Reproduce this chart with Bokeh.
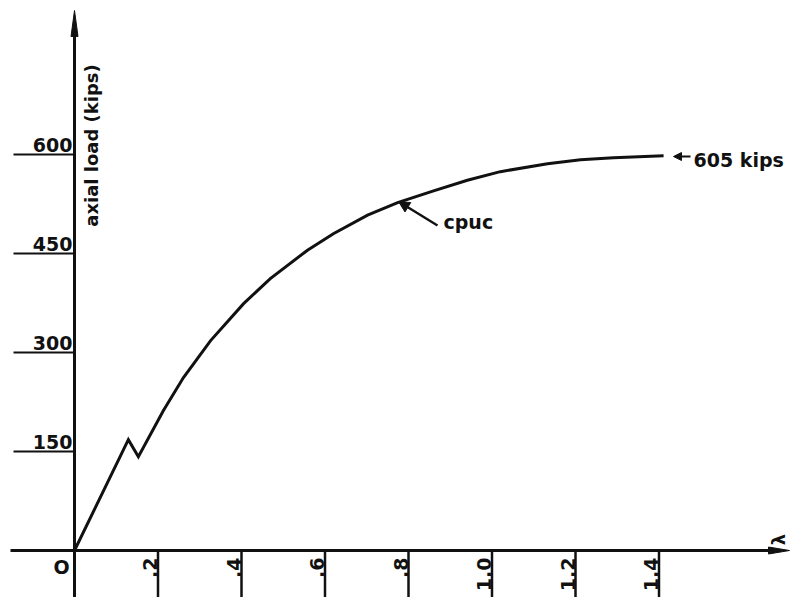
import math
from bokeh.plotting import figure
from bokeh.models import Range1d, Arrow, NormalHead
from bokeh.core.properties import value
from bokeh.embed import file_html
from bokeh.resources import INLINE

# ---- data ----
lam = [0.0, 0.129, 0.153, 0.213, 0.261, 0.326, 0.405, 0.469, 0.558, 0.620,
       0.702, 0.774, 0.860, 0.941, 1.020, 1.133, 1.212, 1.291, 1.411]
load = [0, 168, 142, 212, 262, 318, 374, 412, 455, 480,
        508, 527, 545, 561, 574, 586, 592, 595, 598]

x_ticks = [0.2, 0.4, 0.6, 0.8, 1.0, 1.2, 1.4]
x_tick_labels = [".2", ".4", ".6", ".8", "1.0", "1.2", "1.4"]
y_ticks = [150, 300, 450, 600]
y_tick_labels = ["150", "300", "450", "600"]

y_label = "axial load (kips)"
x_label = "λ"
origin_label = "O"
curve_label = "cpuc"
peak_label = "605 kips"

# ---- layout: page geometry (pixels) ----
W, H = 791, 597
X0, Y0 = 74.0, 550.0     # origin on page
PX, PY = 417.5, 0.66     # pixels per unit lambda / per kip


def lx(px):
    return (px - X0) / PX


def ly(py):
    return (Y0 - py) / PY


p = figure(width=W, height=H, output_backend="svg", toolbar_location=None,
           x_range=Range1d(lx(0), lx(W)),
           y_range=Range1d(ly(H), ly(0)),
           x_axis_type=None, y_axis_type=None, min_border=0)
p.grid.visible = False
p.outline_line_color = None
p.background_fill_color = "white"
p.border_fill_color = "white"

INK = "#111111"
FONT = value("DejaVu Sans")

# y axis with arrow head
p.line([0, 0], [ly(H), ly(30)], line_color=INK, line_width=3)
p.patch([lx(X0 - 3.5), 0, lx(X0 + 3.5)], [ly(36), ly(10), ly(36)],
        fill_color=INK, line_color=INK, line_width=1)

# x axis with arrow head
p.line([lx(10), lx(772)], [0, 0], line_color=INK, line_width=3)
p.patch([lx(768), lx(789), lx(768)], [ly(Y0 - 3.5), 0, ly(Y0 + 3.5)],
        fill_color=INK, line_color=INK, line_width=1)

# x ticks (hanging below the axis)
p.segment(x0=x_ticks, y0=[0] * len(x_ticks), x1=x_ticks,
          y1=[ly(H)] * len(x_ticks), line_color=INK, line_width=2.5)
p.text(x=[t - 8 / PX for t in x_ticks], y=[ly(557)] * len(x_ticks),
       text=x_tick_labels, angle=math.pi / 2, text_align="right",
       text_baseline="middle", text_font=FONT, text_font_style="bold",
       text_font_size="19px", text_color=INK)

# y ticks: underlines with labels above
p.segment(x0=[lx(13)] * len(y_ticks), y0=y_ticks, x1=[0] * len(y_ticks),
          y1=y_ticks, line_color=INK, line_width=2)
p.text(x=[lx(72)] * len(y_ticks), y=[v + 10 / PY for v in y_ticks],
       text=y_tick_labels, text_align="right", text_baseline="middle",
       text_font=FONT, text_font_style="bold", text_font_size="19px",
       text_color=INK)

# origin, axis titles
p.text(x=[lx(61)], y=[ly(566)], text=[origin_label], text_align="center",
       text_baseline="middle", text_font=FONT, text_font_style="bold",
       text_font_size="19px", text_color=INK)
p.text(x=[lx(778)], y=[ly(539)], text=[x_label], angle=math.pi / 2,
       text_align="center", text_baseline="middle", text_font=FONT,
       text_font_style="bold", text_font_size="18px", text_color=INK)
p.text(x=[lx(91)], y=[ly(145)], text=[y_label], angle=math.pi / 2,
       text_align="center", text_baseline="middle", text_font=FONT,
       text_font_style="bold", text_font_size="18px", text_color=INK)

# the curve
p.line(lam, load, line_color=INK, line_width=3, line_join="miter")

# annotations
p.add_layout(Arrow(end=NormalHead(size=11, fill_color=INK, line_color=INK),
                   x_start=lx(437), y_start=ly(225), x_end=lx(398), y_end=ly(201),
                   line_color=INK, line_width=2.5))
p.text(x=[lx(443)], y=[ly(221)], text=[curve_label], text_align="left",
       text_baseline="middle", text_font=FONT, text_font_style="bold",
       text_font_size="19px", text_color=INK)

p.add_layout(Arrow(end=NormalHead(size=8, fill_color=INK, line_color=INK),
                   x_start=lx(690), y_start=ly(156), x_end=lx(673), y_end=ly(156),
                   line_color=INK, line_width=2))
p.text(x=[lx(693)], y=[ly(159)], text=[peak_label], text_align="left",
       text_baseline="middle", text_font=FONT, text_font_style="bold",
       text_font_size="19px", text_color=INK)

open("out.html", "w").write(file_html(p, INLINE))
